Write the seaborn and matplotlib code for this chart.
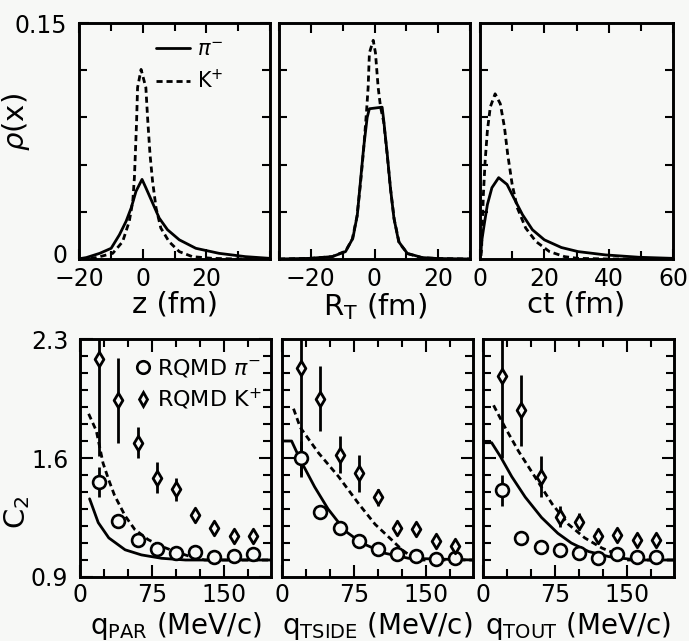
import numpy as np
import pandas as pd
import matplotlib
matplotlib.use("Agg")
import matplotlib.pyplot as plt
import matplotlib.transforms as mtransforms
from matplotlib.lines import Line2D
import seaborn as sns

# ---------------- data: source distributions (top row) ----------------
z_pi_x = [-19.5, -17.7, -13.5, -9.9, -7.3, -5.2, -3.6, -2.1, -0.2, 1.0, 3.1, 5.2, 7.8, 11.5, 16.7, 24, 32.3, 40]
z_pi_y = [0.0003, 0.0009, 0.0036, 0.0068, 0.0154, 0.024, 0.0325, 0.043, 0.0506, 0.0453, 0.0357, 0.026, 0.0186, 0.0122, 0.0068, 0.0036, 0.0015, 0.0004]
z_K_x = [-19.5, -14.6, -9.4, -6.3, -4.2, -3.1, -2.6, -2.3, -1.9, -1.6, -0.5, 1.0, 1.6, 2.3, 3.1, 4.2, 5.7, 8.3, 11.5, 15.6, 22, 30, 40]
z_K_y = [0.0, 0.0009, 0.0036, 0.011, 0.024, 0.0368, 0.0517, 0.0667, 0.088, 0.109, 0.1205, 0.109, 0.088, 0.0667, 0.0496, 0.0325, 0.0197, 0.011, 0.0047, 0.0015, 0.0004, 0.0, 0.0]

r_pi_x = [-30, -20.6, -13.3, -9.1, -6.8, -5.4, -4.4, -3.4, -2.3, -1.6, 2.4, 2.9, 4.0, 5.0, 6.1, 7.6, 10.3, 15, 20, 30]
r_pi_y = [0.0, 0.0004, 0.0015, 0.0047, 0.0132, 0.028, 0.0496, 0.071, 0.090, 0.0955, 0.0965, 0.088, 0.0667, 0.0453, 0.026, 0.011, 0.0036, 0.0009, 0.0003, 0.0]
r_K_x = [-30, -20, -13.3, -9.1, -7.0, -5.5, -4.4, -3.4, -2.5, -2.0, -1.6, -0.4, 0.3, 1.15, 1.9, 2.9, 4.0, 5.0, 6.2, 7.8, 10.5, 15, 20, 30]
r_K_y = [0.0, 0.0004, 0.0015, 0.0050, 0.0125, 0.027, 0.048, 0.070, 0.094, 0.109, 0.131, 0.139, 0.131, 0.109, 0.0966, 0.087, 0.066, 0.045, 0.025, 0.010, 0.0033, 0.0008, 0.0003, 0.0]

ct_pi_x = [0.3, 0.5, 1.3, 2.3, 3.7, 5.8, 8.4, 10.5, 13.2, 16.3, 20, 25.3, 30.5, 39, 49.5, 60]
ct_pi_y = [0.004, 0.011, 0.0218, 0.0346, 0.0453, 0.0517, 0.0474, 0.0389, 0.0282, 0.0186, 0.0122, 0.0073, 0.0047, 0.0026, 0.0011, 0.0004]
ct_K_x = [0.3, 0.5, 0.7, 1.05, 1.6, 2.3, 3.2, 4.7, 6.3, 7.6, 8.6, 10, 11.6, 14.2, 17.4, 21.6, 26.3, 30.5, 40, 60]
ct_K_y = [0.002, 0.0068, 0.0197, 0.041, 0.0624, 0.0816, 0.0966, 0.105, 0.0987, 0.0838, 0.0667, 0.0474, 0.0325, 0.0197, 0.0111, 0.0047, 0.0015, 0.0004, 0.0, 0.0]

# ---------------- data: correlation functions (bottom row) ----------------
q_pts = [20, 40, 60, 80, 100, 120, 140, 160, 180]

par_pi = [1.46, 1.23, 1.115, 1.065, 1.04, 1.05, 1.02, 1.025, 1.035]
par_pi_err = [0.09, 0.02, 0.015, 0.01, 0.01, 0.01, 0.01, 0.01, 0.01]
par_K = [2.18, 1.94, 1.69, 1.485, 1.415, 1.265, 1.19, 1.14, 1.14]
par_K_err = [0.57, 0.25, 0.09, 0.09, 0.07, 0.03, 0.03, 0.025, 0.025]

tside_pi = [1.60, 1.28, 1.19, 1.11, 1.063, 1.035, 1.023, 1.004, 1.01]
tside_pi_err = [0.10, 0.02, 0.02, 0.015, 0.01, 0.01, 0.01, 0.01, 0.01]
tside_K = [2.13, 1.95, 1.62, 1.51, 1.37, 1.19, 1.18, 1.11, 1.08]
tside_K_err = [0.64, 0.19, 0.11, 0.11, 0.05, 0.03, 0.03, 0.03, 0.03]

tout_pi = [1.41, 1.13, 1.077, 1.06, 1.043, 1.01, 1.035, 1.02, 1.02]
tout_pi_err = [0.09, 0.02, 0.015, 0.01, 0.01, 0.01, 0.01, 0.01, 0.01]
tout_K = [2.08, 1.88, 1.49, 1.255, 1.225, 1.14, 1.15, 1.12, 1.12]
tout_K_err = [0.48, 0.21, 0.12, 0.06, 0.05, 0.03, 0.03, 0.03, 0.03]

par_solid_q = [10, 19, 30, 47, 64, 85, 110, 200]
par_solid_c = [1.36, 1.22, 1.13, 1.06, 1.03, 1.01, 1.0, 1.0]
par_dash_q = [9, 17, 24, 30, 36, 47, 57, 71, 85, 99, 115, 130, 200]
par_dash_c = [1.86, 1.76, 1.57, 1.47, 1.38, 1.26, 1.18, 1.12, 1.08, 1.05, 1.02, 1.0, 1.0]

tside_solid_q = [0, 10, 19, 34, 48, 66, 83, 107, 132, 200]
tside_solid_c = [1.70, 1.70, 1.59, 1.43, 1.30, 1.17, 1.10, 1.04, 1.01, 1.0]
tside_dash_q = [12, 19, 38, 59, 80, 97, 114, 125, 140, 200]
tside_dash_c = [1.89, 1.78, 1.63, 1.49, 1.33, 1.21, 1.12, 1.06, 1.0, 1.0]

tout_solid_q = [0, 9, 18, 30, 44, 61, 78, 92, 110, 131, 160, 200]
tout_solid_c = [1.69, 1.69, 1.61, 1.49, 1.37, 1.25, 1.157, 1.10, 1.05, 1.02, 1.0, 1.0]
tout_dash_q = [11, 23, 37, 54, 72, 89, 106, 124, 137, 150, 200]
tout_dash_c = [1.91, 1.78, 1.64, 1.49, 1.33, 1.21, 1.13, 1.07, 1.04, 1.0, 1.0]

top_xlabels = ["z (fm)", r"R$_{\rm T}$ (fm)", "ct (fm)"]
bot_xlabels = [r"q$_{\rm PAR}$ (MeV/c)", r"q$_{\rm TSIDE}$ (MeV/c)", r"q$_{\rm TOUT}$ (MeV/c)"]

# ---------------- style ----------------
sns.set_theme(style="ticks")
BG = "#f7f8f6"
plt.rcParams["font.family"] = ["DejaVu Sans"]
plt.rcParams["mathtext.fontset"] = "dejavusans"
plt.rcParams["axes.facecolor"] = BG
plt.rcParams["figure.facecolor"] = BG
for key in ["text.color", "axes.labelcolor", "xtick.color", "ytick.color", "axes.edgecolor"]:
    plt.rcParams[key] = "black"

fig = plt.figure(figsize=(6.89, 6.41), dpi=100)
W, H = 689.0, 641.0


def rect(l, t, r, b):
    return [l / W, 1 - b / H, (r - l) / W, (b - t) / H]


top_rects = [(79, 23, 270, 259), (279, 23, 470, 259), (480, 23, 673, 259)]
bot_rects = [(80, 339, 271, 577), (282, 339, 473, 577), (483, 339, 674, 577)]

LW = 2.0
DASH = (0, (2.2, 1.4))


def style_axes(ax):
    for s in ax.spines.values():
        s.set_linewidth(2.1)
        s.set_color("black")
    ax.tick_params(which="both", direction="in", top=True, right=True,
                   width=1.5, color="black", labelsize=17, labelcolor="black")
    ax.tick_params(which="major", length=7)
    ax.tick_params(which="minor", length=6)


# ---------------- top row ----------------
top_data = [
    (z_pi_x, z_pi_y, z_K_x, z_K_y, (-20, 40), [-20, 0, 20], np.arange(-20, 41, 10)),
    (r_pi_x, r_pi_y, r_K_x, r_K_y, (-30, 30), [-20, 0, 20], np.arange(-30, 31, 10)),
    (ct_pi_x, ct_pi_y, ct_K_x, ct_K_y, (0, 60), [0, 20, 40, 60], np.arange(0, 61, 10)),
]
top_axes = []
for i, (px, py, kx, ky, xl, xmaj, xmin) in enumerate(top_data):
    ax = fig.add_axes(rect(*top_rects[i]))
    top_axes.append(ax)
    sns.lineplot(x=px, y=py, ax=ax, color="black", lw=LW, sort=False, estimator=None)
    sns.lineplot(x=kx, y=ky, ax=ax, color="black", lw=LW, linestyle=DASH, sort=False, estimator=None)
    ax.set_xlim(*xl)
    ax.set_ylim(0, 0.15)
    ax.set_xticks(xmaj)
    ax.set_xticks(xmin, minor=True)
    ax.set_yticks([0, 0.15] if i == 0 else [])
    ax.set_yticks(np.arange(0.03, 0.13, 0.03), minor=True)
    style_axes(ax)
    ax.tick_params(axis="x", pad=6)
    ax.tick_params(axis="y", pad=8.5)
    if i == 0:
        ax.set_yticklabels(["0", "0.15"])
    ax.set_xlabel(top_xlabels[i], fontsize=21)
    ax.xaxis.set_label_coords(0.5, -0.135)

# lift the "0" tick label a little so it does not collide with "-20"
zero_lbl = top_axes[0].get_yticklabels()[0]
zero_lbl.set_transform(zero_lbl.get_transform() +
                       mtransforms.ScaledTranslation(0, 4 / 72, fig.dpi_scale_trans))

top_axes[0].set_ylabel(r"$\rho$(x)", fontsize=21)
top_axes[0].yaxis.set_label_coords(-0.245, 0.58)
hl = [Line2D([], [], color="black", lw=LW),
      Line2D([], [], color="black", lw=LW, linestyle=DASH)]
top_axes[0].legend(hl, [r"$\pi^{-}$", r"K$^{+}$"], loc="upper left",
                   bbox_to_anchor=(0.405, 0.93), frameon=False, fontsize=15,
                   handlelength=1.6, handletextpad=0.35, labelspacing=0.45,
                   borderpad=0, borderaxespad=0)

# ---------------- bottom row ----------------
bot_data = [
    (par_pi, par_pi_err, par_K, par_K_err, par_solid_q, par_solid_c, par_dash_q, par_dash_c),
    (tside_pi, tside_pi_err, tside_K, tside_K_err, tside_solid_q, tside_solid_c, tside_dash_q, tside_dash_c),
    (tout_pi, tout_pi_err, tout_K, tout_K_err, tout_solid_q, tout_solid_c, tout_dash_q, tout_dash_c),
]
bot_axes = []
for i, (pi_v, pi_e, k_v, k_e, sq, sc, dq, dc) in enumerate(bot_data):
    ax = fig.add_axes(rect(*bot_rects[i]))
    bot_axes.append(ax)
    sns.lineplot(x=sq, y=sc, ax=ax, color="black", lw=LW, sort=False, estimator=None)
    sns.lineplot(x=dq, y=dc, ax=ax, color="black", lw=LW, linestyle=DASH, sort=False, estimator=None)
    ax.errorbar(q_pts, k_v, yerr=k_e, fmt="none", ecolor="black", elinewidth=2.0, capsize=0, zorder=2)
    ax.errorbar(q_pts, pi_v, yerr=pi_e, fmt="none", ecolor="black", elinewidth=2.0, capsize=0, zorder=2)
    sns.scatterplot(x=q_pts, y=pi_v, ax=ax, marker="o", s=85, facecolor=BG,
                    edgecolor="black", linewidth=1.9, zorder=3)
    sns.scatterplot(x=q_pts, y=k_v, ax=ax, marker="d", s=55, facecolor=BG,
                    edgecolor="black", linewidth=2.0, zorder=3)
    ax.set_xlim(0, 199)
    ax.set_ylim(0.9, 2.3)
    ax.set_xticks([0, 75, 150])
    ax.set_xticks(np.arange(25, 199, 25), minor=True)
    ax.set_yticks([0.9, 1.6, 2.3] if i == 0 else [1.6])
    ax.set_yticks(np.arange(1.0, 2.25, 0.1), minor=True)
    style_axes(ax)
    ax.tick_params(axis="x", pad=4)
    ax.tick_params(axis="y", pad=8.5)
    ax.tick_params(which="major", length=9)
    if i == 0:
        ax.set_yticklabels(["0.9", "1.6", "2.3"])
    else:
        ax.set_yticklabels([])
    ax.set_xlabel(bot_xlabels[i], fontsize=20)
    ax.xaxis.set_label_coords(0.5, -0.14)

bot_axes[0].set_ylabel(r"C$_2$", fontsize=21)
bot_axes[0].yaxis.set_label_coords(-0.25, 0.27)
mh = [Line2D([], [], marker="o", ls="none", ms=9, mfc=BG, mec="black", mew=1.9),
      Line2D([], [], marker="d", ls="none", ms=7.5, mfc=BG, mec="black", mew=2.0)]
bot_axes[0].legend(mh, [r"RQMD $\pi^{-}$", r"RQMD K$^{+}$"], loc="upper left",
                   bbox_to_anchor=(0.29, 0.925), frameon=False, fontsize=16,
                   handlelength=0.7, handletextpad=0.25, labelspacing=0.35,
                   borderpad=0, borderaxespad=0)

fig.savefig("out.png", dpi=100, facecolor=BG)
